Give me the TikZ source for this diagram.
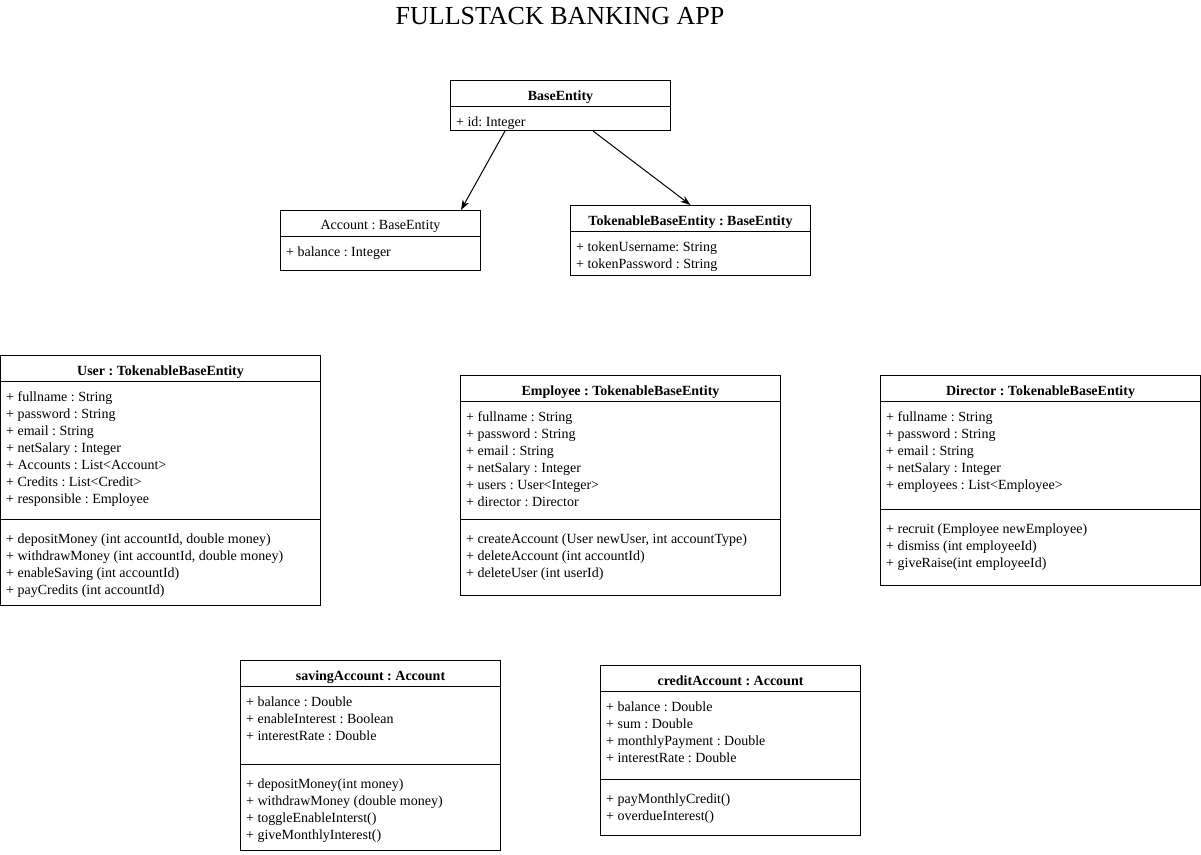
\documentclass[tikz,border=0pt]{standalone}
\usepackage{fontspec}
\setmainfont{Liberation Serif}
\usepackage{tikz}
\usetikzlibrary{positioning,arrows.meta}
\frenchspacing

\begin{document}
\begin{tikzpicture}[x=1pt,y=-1pt,
  box/.style={draw, line width=1pt, rectangle, inner sep=0, anchor=north west},
  row/.style={anchor=west, inner sep=0, yshift=-2pt, text height=9.5pt, text depth=3pt, font=\fontsize{14}{17}\selectfont},
  head/.style={row, anchor=center, font=\fontsize{14}{17}\selectfont\bfseries},
  sep/.style={line width=1pt},
  arr/.style={line width=1pt, -{Stealth[length=10pt,width=7pt,inset=3pt]}}]
\useasboundingbox (0,0) rectangle (1201,854);

\node[font=\fontsize{26}{30}\selectfont] (title) at (560,16) {FULLSTACK BANKING APP};

% Base classes
\node[box, minimum width=220pt, minimum height=50pt] (base) at (450,80) {};
\node[head] (base-t) at ([yshift=-15pt]base.north) {BaseEntity};
\draw[sep] ([yshift=-26pt]base.north west) -- ([yshift=-26pt]base.north east);
\node[row] (base-a1) at ([shift={(6pt,-41pt)}]base.north west) {+ id: Integer};

\node[box, minimum width=200pt, minimum height=60pt] (acc) at (280,210) {};
\node[head, font=\fontsize{14}{17}\selectfont] (acc-t) at ([yshift=-14pt]acc.north) {Account : BaseEntity};
\draw[sep] ([yshift=-26pt]acc.north west) -- ([yshift=-26pt]acc.north east);
\node[row] (acc-a1) at ([shift={(6pt,-41pt)}]acc.north west) {+ balance : Integer};

\node[box, minimum width=240pt, minimum height=70pt] (tok) at (570,205) {};
\node[head] (tok-t) at ([yshift=-15pt]tok.north) {TokenableBaseEntity : BaseEntity};
\draw[sep] ([yshift=-26pt]tok.north west) -- ([yshift=-26pt]tok.north east);
\foreach \t [count=\i] in {+ tokenUsername: String, + tokenPassword : String}
  \node[row] (tok-a\i) at ([xshift=6pt,yshift={-(24+17*\i)*1pt}]tok.north west) {\t};

% Inheritance arrows
\draw[arr] ([xshift=55pt]base.south west) -- ([xshift=181pt]acc.north west);
\draw[arr] ([xshift=143pt]base.south west) -- (tok.north);

% Users
\node[box, minimum width=320pt, minimum height=250pt] (user) at (0,355) {};
\node[head] (user-t) at ([yshift=-15pt]user.north) {User : TokenableBaseEntity};
\draw[sep] ([yshift=-26pt]user.north west) -- ([yshift=-26pt]user.north east);
\draw[sep] ([yshift=-164pt]user.north west) -- ([yshift=-164pt]user.north east);
\foreach \t [count=\i] in {+ fullname : String, + password : String, + email : String,
  + netSalary : Integer, + Accounts : List<Account>, + Credits : List<Credit>, + responsible : Employee}
  \node[row] (user-a\i) at ([xshift=6pt,yshift={-(24+17*\i)*1pt}]user.north west) {\t};
\foreach \t [count=\i] in {{+ depositMoney (int accountId, double money)}, {+ withdrawMoney (int accountId, double money)},
  + enableSaving (int accountId), + payCredits (int accountId)}
  \node[row] (user-m\i) at ([xshift=6pt,yshift={-(166+17*\i)*1pt}]user.north west) {\t};

\node[box, minimum width=320pt, minimum height=220pt] (emp) at (460,375) {};
\node[head] (emp-t) at ([yshift=-15pt]emp.north) {Employee : TokenableBaseEntity};
\draw[sep] ([yshift=-26pt]emp.north west) -- ([yshift=-26pt]emp.north east);
\draw[sep] ([yshift=-144pt]emp.north west) -- ([yshift=-144pt]emp.north east);
\foreach \t [count=\i] in {+ fullname : String, + password : String, + email : String,
  + netSalary : Integer, + users : User<Integer>, + director : Director}
  \node[row] (emp-a\i) at ([xshift=6pt,yshift={-(24+17*\i)*1pt}]emp.north west) {\t};
\foreach \t [count=\i] in {{+ createAccount (User newUser, int accountType)}, + deleteAccount (int accountId),
  + deleteUser (int userId)}
  \node[row] (emp-m\i) at ([xshift=6pt,yshift={-(146+17*\i)*1pt}]emp.north west) {\t};

\node[box, minimum width=320pt, minimum height=210pt] (dir) at (880,375) {};
\node[head] (dir-t) at ([yshift=-15pt]dir.north) {Director : TokenableBaseEntity};
\draw[sep] ([yshift=-26pt]dir.north west) -- ([yshift=-26pt]dir.north east);
\draw[sep] ([yshift=-134pt]dir.north west) -- ([yshift=-134pt]dir.north east);
\foreach \t [count=\i] in {+ fullname : String, + password : String, + email : String,
  + netSalary : Integer, + employees : List<Employee>}
  \node[row] (dir-a\i) at ([xshift=6pt,yshift={-(24+17*\i)*1pt}]dir.north west) {\t};
\foreach \t [count=\i] in {+ recruit (Employee newEmployee), + dismiss (int employeeId),
  + giveRaise(int employeeId)}
  \node[row] (dir-m\i) at ([xshift=6pt,yshift={-(136+17*\i)*1pt}]dir.north west) {\t};

% Accounts
\node[box, minimum width=260pt, minimum height=190pt] (sav) at (240,660) {};
\node[head] (sav-t) at ([yshift=-15pt]sav.north) {savingAccount : Account};
\draw[sep] ([yshift=-26pt]sav.north west) -- ([yshift=-26pt]sav.north east);
\draw[sep] ([yshift=-104pt]sav.north west) -- ([yshift=-104pt]sav.north east);
\foreach \t [count=\i] in {+ balance : Double, + enableInterest : Boolean, + interestRate : Double}
  \node[row] (sav-a\i) at ([xshift=6pt,yshift={-(24+17*\i)*1pt}]sav.north west) {\t};
\foreach \t [count=\i] in {+ depositMoney(int money), + withdrawMoney (double money),
  + toggleEnableInterst(), + giveMonthlyInterest()}
  \node[row] (sav-m\i) at ([xshift=6pt,yshift={-(106+17*\i)*1pt}]sav.north west) {\t};

\node[box, minimum width=260pt, minimum height=170pt] (cred) at (600,665) {};
\node[head] (cred-t) at ([yshift=-15pt]cred.north) {creditAccount : Account};
\draw[sep] ([yshift=-26pt]cred.north west) -- ([yshift=-26pt]cred.north east);
\draw[sep] ([yshift=-114pt]cred.north west) -- ([yshift=-114pt]cred.north east);
\foreach \t [count=\i] in {+ balance : Double, + sum : Double, + monthlyPayment : Double, + interestRate : Double}
  \node[row] (cred-a\i) at ([xshift=6pt,yshift={-(24+17*\i)*1pt}]cred.north west) {\t};
\foreach \t [count=\i] in {+ payMonthlyCredit(), + overdueInterest()}
  \node[row] (cred-m\i) at ([xshift=6pt,yshift={-(116+17*\i)*1pt}]cred.north west) {\t};
\end{tikzpicture}
\end{document}
